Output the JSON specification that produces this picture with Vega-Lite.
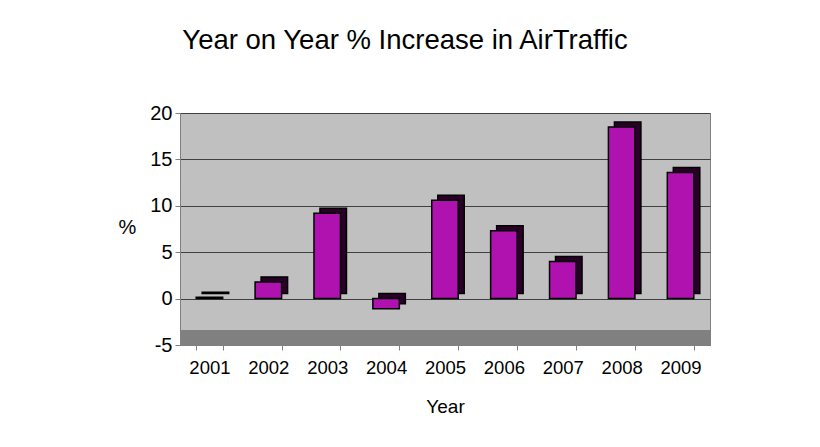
{
  "$schema": "https://vega.github.io/schema/vega-lite/v6.json",
  "autosize": "none",
  "width": 530,
  "height": 232,
  "padding": {"left": 180, "top": 113, "right": 110, "bottom": 102},
  "background": "white",
  "title": {
    "text": "Year on Year % Increase in AirTraffic",
    "font": "Liberation Sans",
    "fontSize": 27.5,
    "fontWeight": "normal",
    "color": "black",
    "anchor": "middle",
    "dx": -40,
    "offset": 49
  },
  "config": {
    "view": {"fill": "#C0C0C0", "stroke": "#808080", "strokeWidth": 1}
  },
  "data": {
    "values": [
      {"Year": "2001", "Pct": 0.15},
      {"Year": "2002", "Pct": 1.8},
      {"Year": "2003", "Pct": 9.2},
      {"Year": "2004", "Pct": -1.1},
      {"Year": "2005", "Pct": 10.6},
      {"Year": "2006", "Pct": 7.3},
      {"Year": "2007", "Pct": 4.0},
      {"Year": "2008", "Pct": 18.5},
      {"Year": "2009", "Pct": 13.6}
    ]
  },
  "encoding": {
    "x": {
      "field": "Year", "type": "nominal", "sort": null,
      "scale": {"paddingInner": 0.55, "paddingOuter": 0.275},
      "axis": {
        "title": "Year", "titleFont": "Liberation Sans", "titleFontSize": 19,
        "titleFontWeight": "normal", "titleColor": "black", "titlePadding": 21,
        "labelFont": "Liberation Sans", "labelFontSize": 18.5, "labelColor": "black",
        "labelAngle": 0, "labelPadding": 8,
        "domainColor": "#808080", "tickColor": "#808080", "tickSize": 5,
        "tickBand": "extent"
      }
    },
    "y": {
      "field": "Pct", "type": "quantitative",
      "scale": {"domain": [-5, 20], "nice": false},
      "axis": {
        "title": "%", "titleAngle": 0, "titleFont": "Liberation Sans", "titleFontSize": 20,
        "titleFontWeight": "normal", "titleColor": "black", "titleX": -53, "titleY": 124,
        "values": [-5, 0, 5, 10, 15, 20],
        "labelExpr": "toString(datum.value)",
        "labelFont": "Liberation Sans", "labelFontSize": 20, "labelColor": "black",
        "labelPadding": 3,
        "domainColor": "#808080", "tickColor": "#808080", "tickSize": 5,
        "gridColor": "#404040", "gridWidth": 1
      }
    }
  },
  "layer": [
    {
      "mark": {"type": "rect", "fill": "#808080"},
      "encoding": {
        "x": null,
        "y": {"datum": -5},
        "y2": {"datum": -3.4}
      }
    },
    {
      "mark": {"type": "bar", "fill": "#2A0028", "stroke": "black", "strokeWidth": 1.5, "xOffset": 6, "yOffset": -5}
    },
    {
      "mark": {"type": "bar", "fill": "#B012B0", "stroke": "black", "strokeWidth": 1.5}
    }
  ]
}
